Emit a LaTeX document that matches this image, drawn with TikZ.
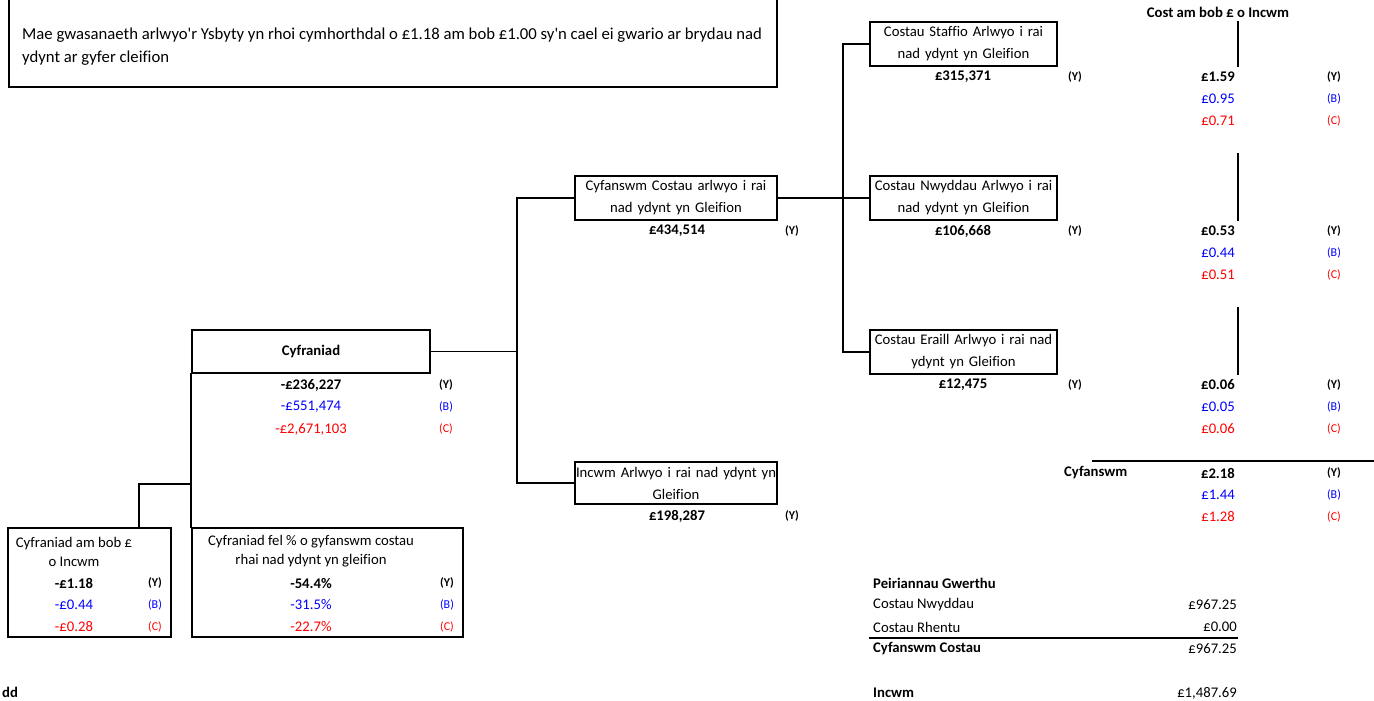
\documentclass[tikz,border=0pt]{standalone}
\usepackage{fontspec}
\setmainfont{Carlito}[Ligatures={TeXOff,NoCommon}]
\usetikzlibrary{positioning}

\begin{document}
\begin{tikzpicture}
	[x=1pt,y=-1pt,line cap=rect,
	%Styles
	box/.style={draw,line width=2.2pt,inner sep=0pt,align=center,text width=#1,font=\fontsize{14.7}{22}\selectfont},
	box/.default=187,
	connector/.style={line width=1.8pt},
	rule/.style={line width=2.2pt},
	val/.style={inner sep=0pt,font=\fontsize{14.7}{18}\selectfont},
	valY/.style={val,font=\bfseries\fontsize{14.7}{18}\selectfont},
	valB/.style={val,text=bcol},
	valC/.style={val,text=ccol},
	tagY/.style={inner sep=0pt,font=\bfseries\fontsize{12}{14}\selectfont},
	tagB/.style={inner sep=0pt,text=bcol,font=\fontsize{12}{14}\selectfont},
	tagC/.style={inner sep=0pt,text=ccol,font=\fontsize{12}{14}\selectfont}
	]
	
	%Colors
	\definecolor{bcol}{RGB}{0,0,255}	%second row values
	\definecolor{ccol}{RGB}{255,0,0}	%third row values
	
	\useasboundingbox (0,0) rectangle (1374,701);
	
	%Note at the top
	\draw[box] (9,-10) rectangle (777,87);
	\node[val,anchor=west,align=left,font=\fontsize{16.7}{23}\selectfont] (note) at (22,46.5)
		{Mae gwasanaeth arlwyo'r Ysbyty yn rhoi cymhorthdal o £1.18 am bob £1.00 sy'n cael ei gwario ar brydau nad\\ydynt ar gyfer cleifion};
	
	%The tree
	\node[box=238,minimum height=43,font=\bfseries\fontsize{14.7}{22}\selectfont] (contrib) at (311,351.5) {Cyfraniad};
	\node[box=202,minimum height=44] (total) at (676,198) {Cyfanswm Costau arlwyo i rai\\nad ydynt yn Gleifion};
	\node[box=202,minimum height=42] (income) at (676,483) {Incwm Arlwyo i rai nad ydynt yn\\Gleifion};
	\node[box,minimum height=44] (staff) at (963.5,44) {Costau Staffio Arlwyo i rai\\nad ydynt yn Gleifion};
	\node[box,minimum height=44] (goods) at (963.5,198) {Costau Nwyddau Arlwyo i rai\\nad ydynt yn Gleifion};
	\node[box,minimum height=44] (other) at (963.5,352) {Costau Eraill Arlwyo i rai nad\\ydynt yn Gleifion};
	\node[box=163,minimum height=109] (perinc) at (89.5,582.5) {};
	\node[box=271,minimum height=109] (percent) at (327.5,582.5) {};
	
	\draw[connector] (contrib.east) -- ++(86,0) coordinate (fork1);
	\draw[connector] (fork1) |- (total.west);
	\draw[connector] (fork1) |- (income.west);
	\draw[connector] (total.east) -- (goods.west);
	\coordinate (fork2) at (843,198);
	\draw[connector] (fork2) |- (staff.west);
	\draw[connector] (fork2) |- (other.west);
	\coordinate (fork0) at (139,484);
	\draw[connector] (contrib.south west) -- (percent.north west);
	\draw[connector] (fork0 -| percent.north west) -- (fork0) -- (fork0 |- perinc.north);
	
	%Values under the boxes
	\node[valY] (contribY) at (311,385) {-£236,227};
	\node[tagY] (contribYt) at (446,385) {(Y)};
	\node[valB] (contribB) at (311,407) {-£551,474};
	\node[tagB] (contribBt) at (446,407) {(B)};
	\node[valC] (contribC) at (311,429) {-£2,671,103};
	\node[tagC] (contribCt) at (446,429) {(C)};
	
	\node[valY] (totalY) at (677,231) {£434,514};
	\node[tagY] (totalYt) at (792,231) {(Y)};
	\node[valY] (incomeY) at (677,516) {£198,287};
	\node[tagY] (incomeYt) at (792,516) {(Y)};
	
	\node[valY] (staffY) at (963,77) {£315,371};
	\node[tagY] (staffYt) at (1075,77) {(Y)};
	\node[valY] (goodsY) at (963,231) {£106,668};
	\node[tagY] (goodsYt) at (1075,231) {(Y)};
	\node[valY] (otherY) at (963,385) {£12,475};
	\node[tagY] (otherYt) at (1075,385) {(Y)};
	
	%Boxes at the bottom left
	\node[val,align=center,font=\fontsize{14.7}{19}\selectfont] (perinctext) at (74,551.5) {Cyfraniad am bob £\\o Incwm};
	\node[valY] (perincY) at (74,583) {-£1.18};
	\node[tagY] (perincYt) at (155,583) {(Y)};
	\node[valB] (perincB) at (74,605) {-£0.44};
	\node[tagB] (perincBt) at (155,605) {(B)};
	\node[valC] (perincC) at (74,627) {-£0.28};
	\node[tagC] (perincCt) at (155,627) {(C)};
	
	\node[val,align=center,font=\fontsize{14.7}{19}\selectfont] (percenttext) at (311,551.5) {Cyfraniad fel \% o gyfanswm costau\\rhai nad ydynt yn gleifion};
	\node[valY] (percentY) at (311,583) {-54.4\%};
	\node[tagY] (percentYt) at (447,583) {(Y)};
	\node[valB] (percentB) at (311,605) {-31.5\%};
	\node[tagB] (percentBt) at (447,605) {(B)};
	\node[valC] (percentC) at (311,627) {-22.7\%};
	\node[tagC] (percentCt) at (447,627) {(C)};
	
	\node[valY,anchor=west] (cut) at (2,692) {dd};
	
	%Cost per pound column
	\node[valY] (head) at (1218,12) {Cost am bob £ o Incwm};
	\foreach \a/\b in {22/66,154/220,308/374}
		\draw[rule] (1238,\a) -- (1238,\b);
	\foreach \n/\y/\yv/\bv/\cv in {staff/77/1.59/0.95/0.71,goods/231/0.53/0.44/0.51,other/385/0.06/0.05/0.06,sum/473/2.18/1.44/1.28}
	{
		\node[valY,anchor=east] (\n perY) at (1235,\y) {£\yv};
		\node[tagY] (\n perYt) at (1334,\y) {(Y)};
		\node[valB,anchor=east] (\n perB) at (1235,\y+22) {£\bv};
		\node[tagB] (\n perBt) at (1334,\y+22) {(B)};
		\node[valC,anchor=east] (\n perC) at (1235,\y+44) {£\cv};
		\node[tagC] (\n perCt) at (1334,\y+44) {(C)};
	}
	\node[valY,anchor=west] (sumlabel) at (1064,473) {Cyfanswm};
	\draw[rule] (1093,461) -- (1374,461);
	
	%Vending machines
	\node[valY,anchor=west] (vend) at (873,583) {Peiriannau Gwerthu};
	\node[val,anchor=west] (vendgoods) at (873,605) {Costau Nwyddau};
	\node[val,anchor=east] (vendgoodsv) at (1237,605) {£967.25};
	\node[val,anchor=west] (vendrent) at (873,627) {Costau Rhentu};
	\node[val,anchor=east] (vendrentv) at (1237,627) {£0.00};
	\draw[rule] (870,638) -- (1237,638);
	\node[valY,anchor=west] (vendtotal) at (873,649) {Cyfanswm Costau};
	\node[val,anchor=east] (vendtotalv) at (1237,649) {£967.25};
	\node[valY,anchor=west] (vendinc) at (873,693) {Incwm};
	\node[val,anchor=east] (vendincv) at (1237,693) {£1,487.69};
\end{tikzpicture}
\end{document}
